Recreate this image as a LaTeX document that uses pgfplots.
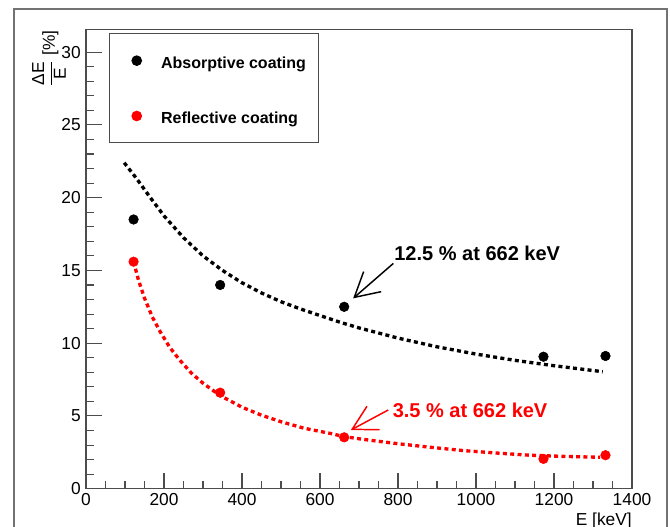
\documentclass[border=0pt]{standalone}
\usepackage{pgfplots}
\pgfplotsset{compat=1.18}
\usepackage{fontspec}
\setmainfont{Liberation Sans}
\usetikzlibrary{arrows.meta}
\definecolor{framegray}{rgb}{0.3,0.3,0.3}
\definecolor{canvasgray}{rgb}{0.45,0.45,0.45}
\pgfplotsset{dotlegend/.style={legend image code/.code={\path (0pt,0pt) (35.7pt,0pt); \draw[##1] plot coordinates {(19.8pt,0pt)};}}}
\begin{document}
\begin{tikzpicture}
\path[use as bounding box] (-64.5pt,-28.725pt) rectangle (438pt,366.525pt);
\draw[line width=1pt, canvasgray] (-54pt,-40pt) -- (-54pt,359.775pt) -- (435.75pt,359.775pt) -- (435.75pt,-40pt);
\begin{axis}[
  at={(0pt,0pt)}, anchor=south west,
  scale only axis, width=409.5pt, height=344.55pt,
  xmin=0, xmax=1400, ymin=0, ymax=31.57,
  xtick={0,200,...,1400}, ytick={0,5,...,30},
  minor x tick num=3, minor y tick num=4,
  tick pos=left, tick align=inside,
  major tick length=12pt, minor tick length=6pt,
  axis line style={draw=framegray, line width=0.9pt},
  tick style={framegray, line width=0.8pt},
  tick label style={font=\fontsize{13}{15}\selectfont},
  /pgf/number format/assume math mode=true,
  /pgf/number format/1000 sep={},
  xticklabel style={inner sep=0pt, yshift=-3.3pt},
  yticklabel style={inner sep=0pt, xshift=-3.75pt},
  clip=false,
  legend cell align=left,
  legend style={at={(axis description cs:0.04274,0.9913)}, anchor=north west,
    draw=framegray, line width=0.75pt, fill=white,
    inner xsep=0pt, inner ysep=11pt, row sep=23.2pt, column sep=0pt,
    nodes={text height=12.8pt},
    font=\bfseries\fontsize{12}{14.4}\selectfont},
]
% fitted curves
\addplot[forget plot, black, line width=2.5pt, dash pattern=on 3pt off 2.5pt] coordinates {
(98,22.4) (130,21.3) (165,20.0) (200,18.75) (250,17.25) (300,16.0) (350,15.0)
(400,14.15) (450,13.45) (500,12.85) (550,12.35) (600,11.9) (650,11.45) (700,11.05)
(750,10.7) (800,10.35) (900,9.75) (1000,9.25) (1100,8.82) (1200,8.45) (1325,8.04)};
\addplot[forget plot, red, line width=2.5pt, dash pattern=on 3pt off 2.5pt] coordinates {
(122,15.6) (135,14.3) (150,13.1) (170,11.8) (190,10.8) (215,9.7) (240,8.85) (270,7.95)
(300,7.25) (344,6.4) (400,5.6) (450,5.05) (500,4.6) (560,4.15) (626,3.8) (662,3.58)
(711,3.39) (797,3.1) (882,2.85) (967,2.62) (1053,2.45) (1138,2.3) (1224,2.22) (1318,2.16)};
% data points
\addplot[only marks, mark=*, mark size=3.6pt, black, dotlegend]
  coordinates {(122,18.5) (344,14.0) (662,12.5) (1173,9.07) (1332,9.12)};
\addlegendentry{Absorptive coating\kern7.5pt}
\addplot[only marks, mark=*, mark size=3.6pt, red, dotlegend]
  coordinates {(122,15.6) (344,6.6) (662,3.53) (1173,2.05) (1332,2.3)};
\addlegendentry{Reflective coating}
% annotations
\node[anchor=west, inner sep=0pt, font=\bfseries\fontsize{15}{18}\selectfont] at (axis cs:790,16.2) {12.5 \% at 662 keV};
\draw[black, line width=1.1pt, -{Straight Barb[length=18pt,width=20pt]}] (axis cs:788,15.48) -- (axis cs:685,13.08);
\node[anchor=west, inner sep=0pt, red, font=\bfseries\fontsize{15}{18}\selectfont] at (axis cs:786,5.36) {3.5 \% at 662 keV};
\draw[red, line width=1.1pt, -{Straight Barb[length=18pt,width=20pt]}] (axis cs:775,5.41) -- (axis cs:679,4.03);
% axis titles
\node[anchor=north east, inner sep=0pt, font=\fontsize{13}{15}\selectfont] at (axis description cs:1,-0.053) {E [keV]};
\node[rotate=90, anchor=east, inner sep=0pt, font=\fontsize{13}{15}\selectfont] at (axis description cs:-0.0678,0.9978) {$\displaystyle\frac{\mbox{ΔE}}{\mbox{E}}$ [\%]};
\end{axis}
\end{tikzpicture}
\end{document}
